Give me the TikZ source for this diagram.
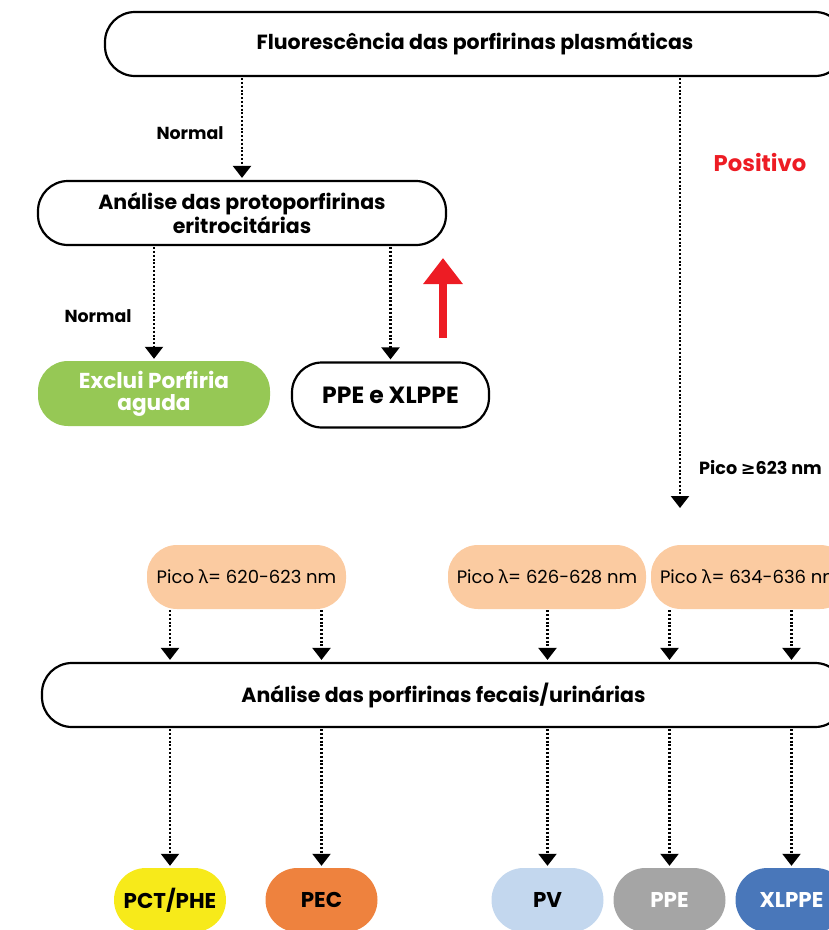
\documentclass[tikz,border=0pt]{standalone}
\usepackage{fontspec}
\setmainfont{Poppins}
\newfontfamily\symfont{Noto Sans}
\newfontfamily\dejafont{DejaVu Sans}
\usetikzlibrary{arrows.meta}
\definecolor{pgreen}{HTML}{96C855}
\definecolor{ppeach}{HTML}{FBCBA1}
\definecolor{pyellow}{HTML}{F7EA1A}
\definecolor{porange}{HTML}{EE823E}
\definecolor{plblue}{HTML}{C3D7EE}
\definecolor{pgray}{HTML}{A5A5A5}
\definecolor{pblue}{HTML}{4977BA}
\definecolor{pred}{HTML}{ED1C24}
\tikzset{
  basebox/.style={rounded corners=30pt, minimum height=64pt, inner sep=0pt, align=center,
    font=\bfseries\fontsize{20.5}{22}\selectfont},
  linebox/.style={basebox, draw=black, line width=2.2pt, fill=white},
  fillbox/.style={basebox, fill=#1},
  peachbox/.style={basebox, fill=ppeach, font=\fontsize{18}{20}\selectfont},
  endbox/.style={basebox, fill=#1, minimum width=112pt, minimum height=64pt, rounded corners=32pt,
    font=\bfseries\fontsize{21.4}{22}\selectfont},
  dotarrow/.style={line width=2.2pt, dash pattern=on 2pt off 1.8pt,
    -{Triangle[width=18pt,length=12pt]}, shorten >=2pt, shorten <=1pt},
  lbl/.style={font=\bfseries\fontsize{17.4}{19}\selectfont, inner sep=0pt}
}
\begin{document}
\begin{tikzpicture}[x=1pt,y=-1pt]
\useasboundingbox (0,0) rectangle (829,930);
\clip (0,0) rectangle (829,930);
% boxes
\node[linebox, minimum width=740pt] (top) at (475,44) {\raisebox{-2pt}{Fluorescência das porfirinas plasmáticas}};
\node[linebox, minimum width=408pt] (prot) at (242,213) {Análise das protoporfirinas\\eritrocitárias};
\node[fillbox=pgreen, minimum width=232pt, minimum height=65pt, text=white,
  font=\bfseries\fontsize{21.6}{22}\selectfont] (excl) at (154,393.5) {Exclui Porfiria\\aguda};
\node[linebox, minimum width=197pt, minimum height=65pt,
  font=\bfseries\fontsize{23.5}{24}\selectfont] (ppex) at (390.5,395) {PPE e XLPPE};
\node[peachbox, minimum width=199pt] (pk1) at (246.5,577) {Pico {\symfont λ}= 620-623 nm};
\node[peachbox, minimum width=198pt] (pk2) at (547,577) {Pico {\symfont λ}= 626-628 nm};
\node[peachbox, minimum width=199pt] (pk3) at (750.5,577) {Pico {\symfont λ}= 634-636 nm};
\node[linebox, minimum width=803pt] (fec) at (443.5,695) {\raisebox{-1.5pt}{Análise das porfirinas fecais/urinárias}};
\node[endbox=pyellow] (pct) at (170,900) {PCT/PHE};
\node[endbox=porange] (pec) at (321.5,900) {PEC};
\node[endbox=plblue] (pv) at (547.5,900) {PV};
\node[endbox=pgray, text=white] (ppe) at (669.5,900) {PPE};
\node[endbox=pblue, text=white] (xl) at (791.5,900) {XLPPE};
\coordinate (pos) at (680,510);
% labels
\node[lbl] (n1) at (190,133) {Normal};
\node[lbl] (n2) at (98,316) {Normal};
\node[lbl, anchor=west, font=\bfseries\fontsize{17.6}{20}\selectfont] (pico) at (699,468) {Pico{ }{\dejafont\bfseries ≥}623 nm};
\node[lbl, text=pred, font=\bfseries\fontsize{22.7}{24}\selectfont] (posi) at (760,162) {Positivo};
% connectors
\draw[dotarrow] (top.south -| prot.north) -- (prot.north);
\draw[dotarrow] (top.south -| pos) -- (pos);
\draw[dotarrow] (prot.south -| excl.north) -- (excl.north);
\draw[dotarrow] (prot.south -| ppex.north) -- (ppex.north);
\draw[dotarrow] (pk1.south -| pct.north) -- (fec.north -| pct.north);
\draw[dotarrow] (pk1.south -| pec.north) -- (fec.north -| pec.north);
\draw[dotarrow] (pk2.south -| pv.north) -- (fec.north -| pv.north);
\draw[dotarrow] (pk3.south -| ppe.north) -- (fec.north -| ppe.north);
\draw[dotarrow] (pk3.south -| xl.north) -- (fec.north -| xl.north);
\foreach \b in {pct,pec,pv,ppe,xl}
  \draw[dotarrow] (fec.south -| \b.north) -- (\b.north);
% red arrow
\coordinate (ra1) at (443,338);
\coordinate (ra2) at (443,258);
\draw[pred, line width=8pt, -{Triangle[width=38pt,length=26pt]}] (ra1) -- (ra2);
\end{tikzpicture}
\end{document}
